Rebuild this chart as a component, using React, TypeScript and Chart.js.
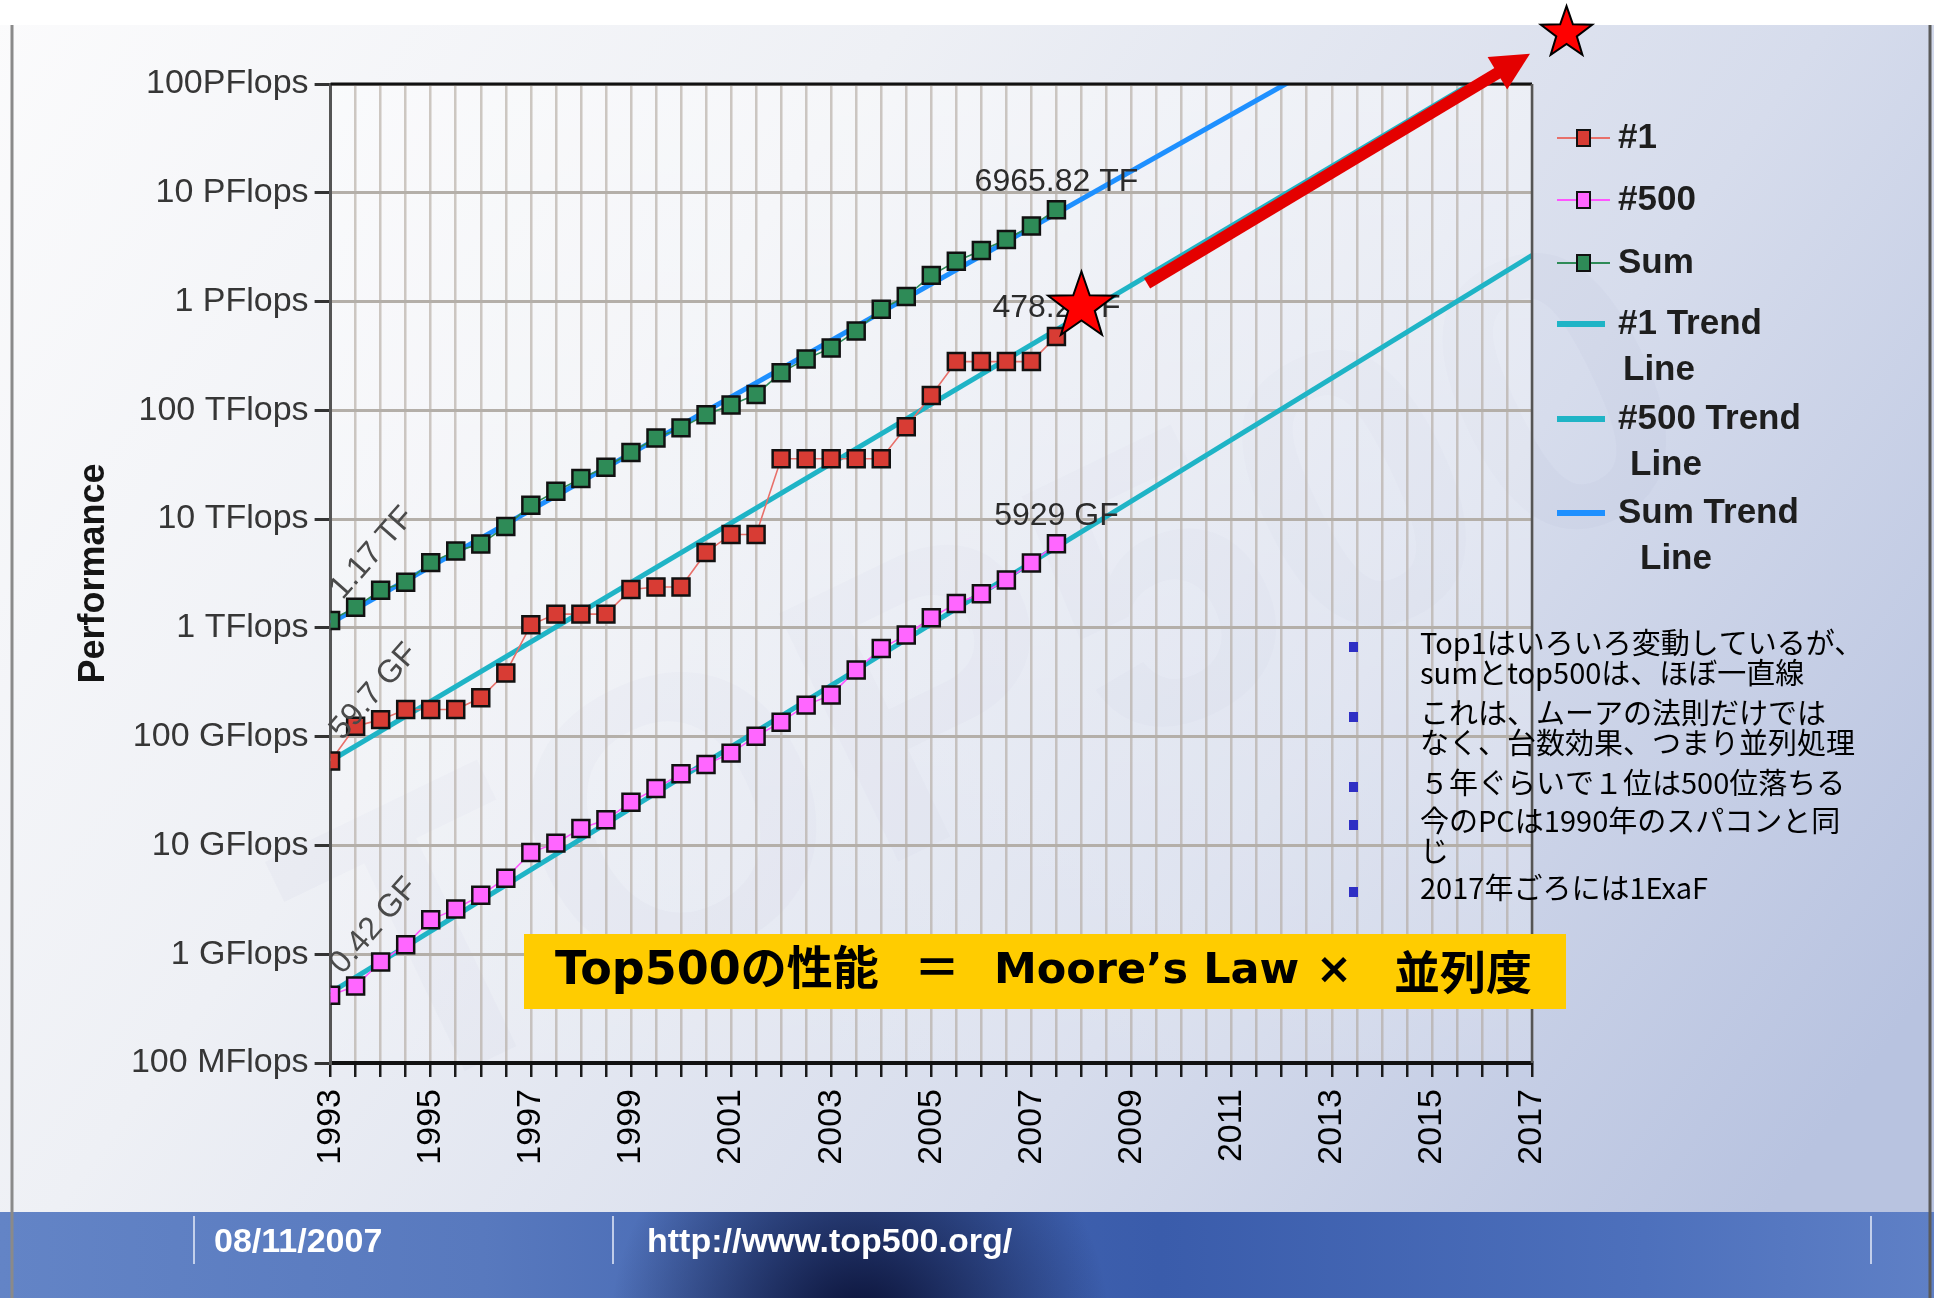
import { useEffect, useRef } from "react";
import { Chart, registerables } from "chart.js";

Chart.register(...registerables);

const FONT = "'Liberation Sans', Arial, sans-serif";
const CJK = "'Noto Sans CJK JP', sans-serif";

// TOP500 list dates (June / November lists) as fractional years
const listYears = [
  1993.0, 1993.5, 1994.0, 1994.5, 1995.0, 1995.5, 1996.0, 1996.5, 1997.0, 1997.5,
  1998.0, 1998.5, 1999.0, 1999.5, 2000.0, 2000.5, 2001.0, 2001.5, 2002.0, 2002.5,
  2003.0, 2003.5, 2004.0, 2004.5, 2005.0, 2005.5, 2006.0, 2006.5, 2007.0, 2007.5,
];

// Rmax of the #1 system (flops)
const top1Flops = [
  59.7e9, 124.5e9, 143.4e9, 178e9, 178e9, 178e9, 228e9, 385e9, 1.068e12, 1.338e12,
  1.338e12, 1.338e12, 2.25e12, 2.38e12, 2.38e12, 4.94e12, 7.23e12, 7.23e12, 35.86e12, 35.86e12,
  35.86e12, 35.86e12, 35.86e12, 70.72e12, 136.8e12, 280.6e12, 280.6e12, 280.6e12, 280.6e12, 478.2e12,
];

// Rmax of the #500 system (flops)
const top500Flops = [
  0.42e9, 0.51e9, 0.85e9, 1.22e9, 2.07e9, 2.61e9, 3.48e9, 5.0e9, 8.6e9, 10.5e9,
  14.3e9, 17.2e9, 25e9, 33.4e9, 45.7e9, 55.6e9, 70.6e9, 101e9, 136e9, 195e9,
  242e9, 411e9, 645e9, 862e9, 1239e9, 1679e9, 2057e9, 2750e9, 3954e9, 5929e9,
];

// Sum of all 500 systems (flops)
const sumFlops = [
  1.17e12, 1.55e12, 2.22e12, 2.63e12, 3.98e12, 5.08e12, 5.9e12, 8.55e12, 13.4e12, 18.0e12,
  23.6e12, 30e12, 41e12, 55.6e12, 69e12, 91e12, 112e12, 140e12, 222e12, 297e12,
  375e12, 535e12, 850e12, 1115e12, 1740e12, 2350e12, 2950e12, 3720e12, 4950e12, 6965.82e12,
];

// Fitted trend lines, end points at 1993 and 2017
const trendYears = [1993, 2017];
const top1Trend = [6.0e10, 2.17e17];
const top500Trend = [4.43e8, 2.66e15];
const sumTrend = [1.11e12, 1.9e18];

const seriesNames = ["#1", "#500", "Sum", "#1 Trend Line", "#500 Trend Line", "Sum Trend Line"];
const startUnits = ["GF", "GF", "TF"];
const endUnits = ["TF", "GF", "TF"];
const unitScale: Record<string, number> = { GF: 1e9, TF: 1e12 };

const yTickValues = [1e8, 1e9, 1e10, 1e11, 1e12, 1e13, 1e14, 1e15, 1e16, 1e17];
const yTickLabels = [
  "100 MFlops", "1 GFlops", "10 GFlops", "100 GFlops", "1 TFlops",
  "10 TFlops", "100 TFlops", "1 PFlops", "10 PFlops", "100PFlops",
];
const xTickLabels = [
  "1993", "1995", "1997", "1999", "2001", "2003", "2005",
  "2007", "2009", "2011", "2013", "2015", "2017",
];

// Highlight marks (stars) and the extrapolation arrow, in data coordinates
const starYears = [2008.0, 2017.69];
const starFlops = [9.0e14, 2.94e17];
const arrowYears = [2009.31, 2016.96];
const arrowFlops = [1.47e15, 1.9e17];

const headline = ["Top500の性能", "＝", "Moore’s Law", "×", "並列度"];
const bullets = [
  ["Top1はいろいろ変動しているが、", "sumとtop500は、ほぼ一直線"],
  ["これは、ムーアの法則だけでは", "なく、台数効果、つまり並列処理"],
  ["５年ぐらいで１位は500位落ちる"],
  ["今のPCは1990年のスパコンと同", "じ"],
  ["2017年ごろには1ExaF"],
];
const footerDate = "08/11/2007";
const footerUrl = "http://www.top500.org/";

const fmt = (v: number, unit: string) => `${+(v / unitScale[unit]).toFixed(2)} ${unit}`;

const pts = (xs: number[], ys: number[]) => xs.map((x, i) => ({ x, y: ys[i] }));

function drawStar(ctx: CanvasRenderingContext2D, cx: number, cy: number, R: number) {
  const r = R * 0.4;
  ctx.beginPath();
  for (let i = 0; i < 10; i++) {
    const rad = i % 2 ? r : R;
    const a = -Math.PI / 2 + (i * Math.PI) / 5;
    const px = cx + rad * Math.cos(a);
    const py = cy + rad * Math.sin(a);
    if (i === 0) ctx.moveTo(px, py);
    else ctx.lineTo(px, py);
  }
  ctx.closePath();
  ctx.fillStyle = "#ff0000";
  ctx.fill();
  ctx.lineWidth = 2;
  ctx.strokeStyle = "#000";
  ctx.stroke();
}

function drawArrow(ctx: CanvasRenderingContext2D, x0: number, y0: number, x1: number, y1: number) {
  const a = Math.atan2(y1 - y0, x1 - x0);
  const head = 38;
  const half = 19;
  const bx = x1 - head * Math.cos(a);
  const by = y1 - head * Math.sin(a);
  ctx.strokeStyle = "#e40000";
  ctx.fillStyle = "#e40000";
  ctx.lineWidth = 12;
  ctx.lineCap = "butt";
  ctx.beginPath();
  ctx.moveTo(x0, y0);
  ctx.lineTo(bx + 2 * Math.cos(a), by + 2 * Math.sin(a));
  ctx.stroke();
  ctx.beginPath();
  ctx.moveTo(x1, y1);
  ctx.lineTo(bx + half * Math.sin(a), by - half * Math.cos(a));
  ctx.lineTo(bx - half * Math.sin(a), by + half * Math.cos(a));
  ctx.closePath();
  ctx.fill();
}

// Slide background, footer band and plot-area wash
const backdrop = {
  id: "backdrop",
  beforeDraw(chart: any) {
    const { ctx, width, height, chartArea } = chart;
    ctx.save();
    const g = ctx.createLinearGradient(0, 0, width * 0.9, 1250);
    g.addColorStop(0, "#fbfbfc");
    g.addColorStop(0.35, "#eef0f5");
    g.addColorStop(0.7, "#d6dcec");
    g.addColorStop(1, "#b8c3e0");
    ctx.fillStyle = g;
    ctx.fillRect(0, 0, width, height);

    // faint logo watermark
    ctx.save();
    ctx.translate(1000, 690);
    ctx.rotate(-0.45);
    ctx.font = `bold 400px ${FONT}`;
    ctx.textAlign = "center";
    ctx.textBaseline = "middle";
    ctx.fillStyle = "rgba(110,125,170,0.035)";
    ctx.fillText("TOP500", 0, 0);
    ctx.restore();

    // plot wash
    const pg = ctx.createLinearGradient(0, chartArea.top, 0, chartArea.bottom);
    pg.addColorStop(0, "rgba(255,255,255,0.45)");
    pg.addColorStop(1, "rgba(255,255,255,0.15)");
    ctx.fillStyle = pg;
    ctx.fillRect(chartArea.left, chartArea.top, chartArea.right - chartArea.left, chartArea.bottom - chartArea.top);

    // top white strip
    ctx.fillStyle = "#ffffff";
    ctx.fillRect(0, 0, width, 25);

    // footer band
    const fy = 1212;
    const fg = ctx.createLinearGradient(0, 0, width, 0);
    fg.addColorStop(0, "#6384c6");
    fg.addColorStop(0.25, "#5879be");
    fg.addColorStop(0.4, "#4668b3");
    fg.addColorStop(0.6, "#3a5cab");
    fg.addColorStop(0.85, "#4d70bc");
    fg.addColorStop(1, "#5f80c6");
    ctx.fillStyle = fg;
    ctx.fillRect(0, fy, width, height - fy);
    const rg = ctx.createRadialGradient(860, 1330, 10, 860, 1330, 250);
    rg.addColorStop(0, "rgba(8,14,50,0.95)");
    rg.addColorStop(1, "rgba(8,14,50,0)");
    ctx.fillStyle = rg;
    ctx.fillRect(0, fy, width, height - fy);

    ctx.strokeStyle = "rgba(220,228,245,0.8)";
    ctx.lineWidth = 2;
    [194, 613, 1871].forEach((x) => {
      ctx.beginPath();
      ctx.moveTo(x, fy + 4);
      ctx.lineTo(x, fy + 52);
      ctx.stroke();
    });
    ctx.fillStyle = "#ffffff";
    ctx.font = `bold 34px ${FONT}`;
    ctx.textBaseline = "middle";
    ctx.textAlign = "left";
    ctx.fillText(footerDate, 214, 1243);
    ctx.fillText(footerUrl, 647, 1243);

    // slide edges
    ctx.strokeStyle = "#8a8a8a";
    ctx.lineWidth = 3;
    ctx.beginPath();
    ctx.moveTo(12, 25);
    ctx.lineTo(12, height);
    ctx.stroke();
    ctx.strokeStyle = "#5a5a5a";
    ctx.beginPath();
    ctx.moveTo(1930, 25);
    ctx.lineTo(1930, height);
    ctx.stroke();
    ctx.restore();
  },
};

// Plot frame and value labels at the first and last list
const valueLabels = {
  id: "valueLabels",
  afterDatasetsDraw(chart: any) {
    const { ctx, chartArea } = chart;
    ctx.save();
    ctx.strokeStyle = "#111";
    ctx.lineWidth = 3;
    ctx.beginPath();
    ctx.moveTo(chartArea.left, chartArea.top);
    ctx.lineTo(chartArea.right, chartArea.top);
    ctx.stroke();
    ctx.strokeStyle = "#555";
    ctx.lineWidth = 2.5;
    ctx.beginPath();
    ctx.moveTo(chartArea.right, chartArea.top);
    ctx.lineTo(chartArea.right, chartArea.bottom);
    ctx.stroke();

    [0, 1, 2].forEach((di) => {
      const meta = chart.getDatasetMeta(di);
      const values = chart.data.datasets[di].data;
      const first = meta.data[0];
      const last = meta.data[meta.data.length - 1];
      ctx.save();
      ctx.font = `32px ${FONT}`;
      ctx.fillStyle = "#2b2b2b";
      ctx.textAlign = "center";
      ctx.textBaseline = "middle";
      ctx.fillText(fmt(values[values.length - 1].y, endUnits[di]), last.x, last.y - 28);
      ctx.translate(first.x + 12, first.y - 20);
      ctx.rotate(-0.85);
      ctx.textAlign = "left";
      ctx.textBaseline = "alphabetic";
      ctx.fillStyle = "#4a4a4a";
      ctx.fillText(fmt(values[0].y, startUnits[di]), 0, 0);
      ctx.restore();
    });
    ctx.restore();
  },
};

// Legend, headline box, notes, stars and arrow
const overlay = {
  id: "overlay",
  afterDraw(chart: any) {
    const { ctx, chartArea, scales } = chart;
    const ds = chart.data.datasets;
    ctx.save();

    // legend
    const rowY = [54, 116, 179, 240, 335, 429];
    const indent = [0, 0, 0, 5, 12, 22];
    const x0 = chartArea.right + 25;
    ds.forEach((d: any, i: number) => {
      const y = chartArea.top + rowY[i];
      const isTrend = i >= 3;
      ctx.strokeStyle = d.borderColor;
      ctx.lineWidth = isTrend ? 6 : 2;
      ctx.beginPath();
      ctx.moveTo(x0, y);
      ctx.lineTo(x0 + (isTrend ? 48 : 53), y);
      ctx.stroke();
      if (!isTrend) {
        ctx.fillStyle = d.pointBackgroundColor;
        ctx.strokeStyle = "#111";
        ctx.lineWidth = 2;
        ctx.fillRect(x0 + 20, y - 8, 13, 16);
        ctx.strokeRect(x0 + 20, y - 8, 13, 16);
      }
      ctx.fillStyle = "#1e1e1e";
      ctx.font = `bold 35px ${FONT}`;
      ctx.textAlign = "left";
      ctx.textBaseline = "middle";
      const label: string = d.label;
      if (isTrend) {
        const cut = label.lastIndexOf(" ");
        ctx.fillText(label.slice(0, cut), x0 + 61, y);
        ctx.fillText(label.slice(cut + 1), x0 + 61 + indent[i], y + 46);
      } else {
        ctx.fillText(label, x0 + 61, y);
      }
    });

    // headline box
    ctx.fillStyle = "#ffcc00";
    ctx.fillRect(524, 934, 1042, 75);
    ctx.fillStyle = "#000";
    ctx.textBaseline = "middle";
    ctx.font = `bold 46px 'DejaVu Sans', ${CJK}`;
    ctx.textAlign = "left";
    ctx.fillText(headline[0], 555, 972);
    ctx.textAlign = "center";
    ctx.fillText(headline[1], 937, 972);
    ctx.font = `bold 43px 'DejaVu Sans', ${CJK}`;
    ctx.textAlign = "left";
    ctx.fillText(headline[2], 994, 972);
    ctx.textAlign = "center";
    ctx.fillText(headline[3], 1334, 972);
    ctx.font = `bold 46px ${CJK}`;
    ctx.textAlign = "left";
    ctx.fillText(headline[4], 1394, 972);

    // notes
    const firstLineY = [643, 713, 783, 821, 888];
    ctx.font = `29px ${CJK}`;
    ctx.textBaseline = "middle";
    bullets.forEach((lines, bi) => {
      ctx.fillStyle = "#2f2fc4";
      ctx.fillRect(1349, firstLineY[bi] - 1, 9, 10);
      ctx.fillStyle = "#000";
      lines.forEach((t, li) => ctx.fillText(t, 1420, firstLineY[bi] + li * 30));
    });

    // arrow and stars
    const xs = scales.x;
    const ys = scales.y;
    drawArrow(
      ctx,
      xs.getPixelForValue(arrowYears[0]),
      ys.getPixelForValue(arrowFlops[0]),
      xs.getPixelForValue(arrowYears[1]),
      ys.getPixelForValue(arrowFlops[1])
    );
    drawStar(ctx, xs.getPixelForValue(starYears[0]), ys.getPixelForValue(starFlops[0]), 35);
    drawStar(ctx, xs.getPixelForValue(starYears[1]), ys.getPixelForValue(starFlops[1]), 27);
    ctx.restore();
  },
};

const markerSeries = (label: string, data: number[], line: string, fill: string) => ({
  label,
  data: pts(listYears, data),
  borderColor: line,
  backgroundColor: fill,
  pointBackgroundColor: fill,
  pointBorderColor: "#111",
  pointBorderWidth: 2.5,
  pointStyle: "rect",
  pointRadius: 12,
  borderWidth: 1.6,
  order: 0,
});

const trendSeries = (label: string, data: number[], color: string) => ({
  label,
  data: pts(trendYears, data),
  borderColor: color,
  backgroundColor: color,
  borderWidth: 5,
  pointRadius: 0,
  order: 1,
});

export default function App() {
  const ref = useRef<HTMLCanvasElement>(null);

  useEffect(() => {
    const canvas = ref.current;
    if (!canvas) return;
    const chart = new Chart(canvas, {
      type: "line",
      data: {
        datasets: [
          markerSeries(seriesNames[0], top1Flops, "#e8706a", "#d83c34"),
          markerSeries(seriesNames[1], top500Flops, "#ff55ff", "#ff66ff"),
          markerSeries(seriesNames[2], sumFlops, "#2e8b57", "#2e8b57"),
          trendSeries(seriesNames[3], top1Trend, "#1fb4c6"),
          trendSeries(seriesNames[4], top500Trend, "#1fb4c6"),
          trendSeries(seriesNames[5], sumTrend, "#1e90ff"),
        ] as any,
      },
      options: {
        responsive: false,
        animation: false,
        devicePixelRatio: 1,
        layout: { padding: { left: 60, top: 84, right: 402, bottom: 85 } },
        plugins: { legend: { display: false }, tooltip: { enabled: false } },
        scales: {
          x: {
            type: "linear",
            min: 1993,
            max: 2017,
            afterFit: (s: any) => {
              s.height = 150;
            },
            grid: {
              color: "rgba(175,165,155,0.6)",
              lineWidth: 2.5,
              tickLength: 14,
              tickColor: "#1a1a1a",
              tickWidth: 2.5,
            },
            border: { color: "#111", width: 4 },
            ticks: {
              stepSize: 0.5,
              autoSkip: false,
              minRotation: 90,
              maxRotation: 90,
              padding: 12,
              color: "#000",
              font: { family: FONT, size: 34 },
              callback: (v: any) => (xTickLabels.includes(String(v)) ? String(v) : ""),
            },
          },
          y: {
            type: "logarithmic",
            min: 1e8,
            max: 1e17,
            afterFit: (s: any) => {
              s.width = 270.6;
            },
            afterBuildTicks: (s: any) => {
              s.ticks = yTickValues.map((value) => ({ value }));
            },
            grid: {
              color: "#b4afa9",
              lineWidth: 3,
              tickLength: 16,
              tickColor: "#333",
              tickWidth: 3,
            },
            border: { color: "#555", width: 3 },
            ticks: {
              padding: 6,
              color: "#363636",
              font: { family: FONT, size: 34 },
              callback: (v: any) => yTickLabels[yTickValues.indexOf(Number(v))] ?? "",
            },
            title: {
              display: true,
              text: "Performance",
              color: "#151515",
              font: { family: FONT, size: 36, weight: "bold" },
              padding: { top: 12, bottom: 0 },
            },
          },
        },
      } as any,
      plugins: [backdrop, valueLabels, overlay],
    });
    return () => chart.destroy();
  }, []);

  return (
    <div style={{ position: "absolute", left: 0, top: 0, width: 1934, height: 1298 }}>
      <canvas ref={ref} width={1934} height={1298} style={{ display: "block", width: 1934, height: 1298 }} />
    </div>
  );
}
